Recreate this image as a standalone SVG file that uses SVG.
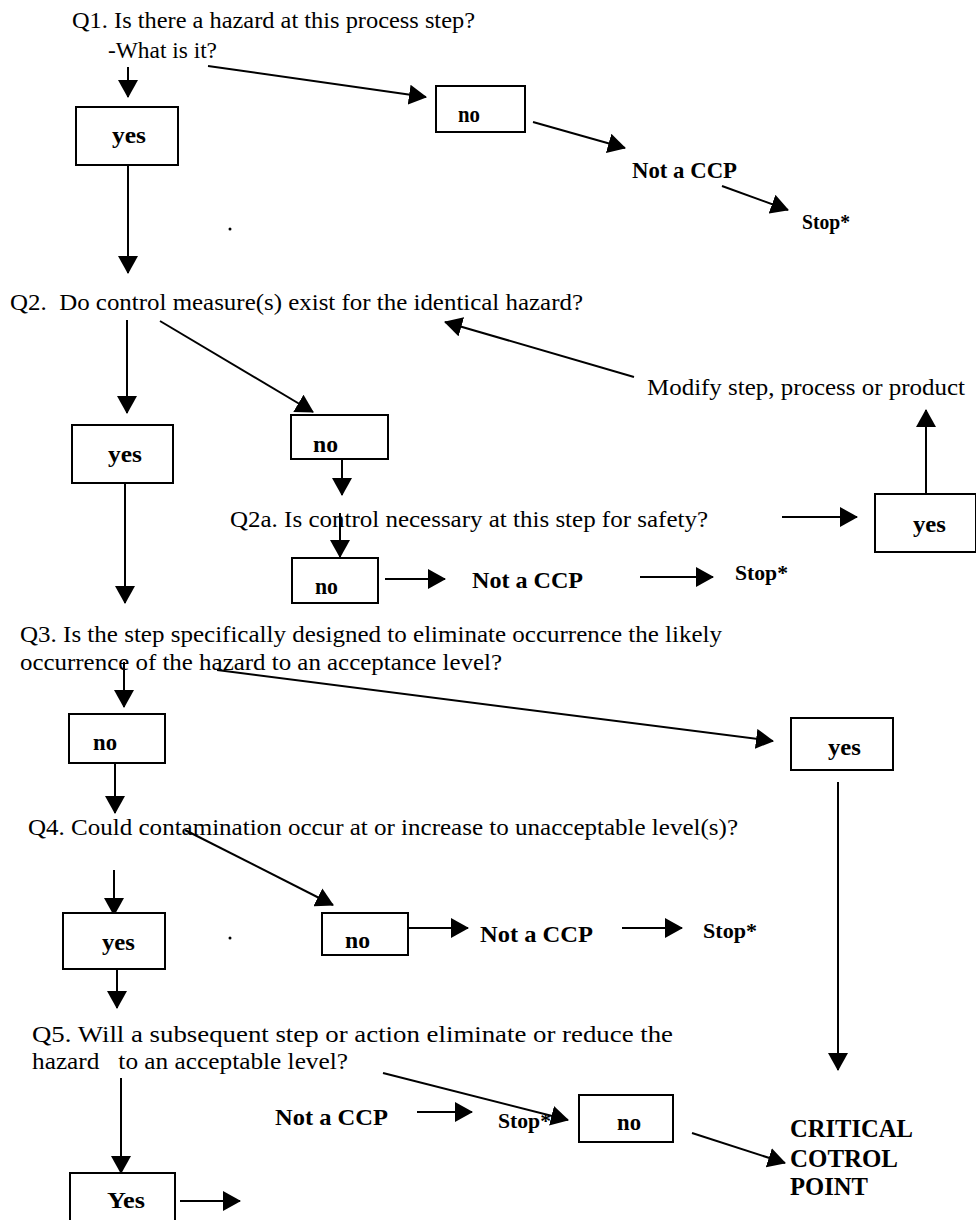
<svg xmlns="http://www.w3.org/2000/svg" width="976" height="1220" viewBox="0 0 976 1220">
<style>
.q{font-family:"Liberation Serif","Times New Roman",serif;font-size:24px;fill:#000;white-space:pre}
.b{font-family:"Liberation Serif","Times New Roman",serif;font-size:23px;font-weight:bold;fill:#000}
.s{font-family:"Liberation Serif","Times New Roman",serif;font-size:20px;font-weight:bold;fill:#000}
.c{font-family:"Liberation Serif","Times New Roman",serif;font-size:25px;font-weight:bold;fill:#000}
.box{fill:#fff;stroke:#000;stroke-width:2}
.ln{stroke:#000;stroke-width:2;fill:none;marker-end:url(#ah)}
</style>
<defs>
<marker id="ah" viewBox="0 0 18 20" refX="17" refY="10" markerWidth="18" markerHeight="20" markerUnits="userSpaceOnUse" orient="auto">
<path d="M0,0 L18,10 L0,20 z" fill="#000"/>
</marker>
</defs>
<rect width="976" height="1220" fill="#fff"/>

<g id="connectors">
<line class="ln" x1="128" y1="67" x2="128" y2="97"/>
<line class="ln" x1="208" y1="66" x2="426" y2="97"/>
<line class="ln" x1="128" y1="165" x2="128" y2="273"/>
<line class="ln" x1="533" y1="122" x2="625" y2="148"/>
<line class="ln" x1="722" y1="186" x2="788" y2="210"/>
<line class="ln" x1="127" y1="320" x2="127" y2="413"/>
<line class="ln" x1="160" y1="321" x2="313" y2="412"/>
<line class="ln" x1="125" y1="483" x2="125" y2="603"/>
<line class="ln" x1="342" y1="459" x2="342" y2="495"/>
<line class="ln" x1="340" y1="513" x2="340" y2="557"/>
<line class="ln" x1="385" y1="579" x2="445" y2="579"/>
<line class="ln" x1="640" y1="577" x2="713" y2="577"/>
<line class="ln" x1="782" y1="517" x2="857" y2="517"/>
<line class="ln" x1="926" y1="494" x2="926" y2="410"/>
<line class="ln" x1="634" y1="377" x2="445" y2="322"/>
<line class="ln" x1="124" y1="662" x2="124" y2="707"/>
<line class="ln" x1="217" y1="670" x2="773" y2="741"/>
<line class="ln" x1="115" y1="763" x2="115" y2="813"/>
<line class="ln" x1="838" y1="782" x2="838" y2="1070"/>
<line class="ln" x1="114" y1="870" x2="114" y2="915"/>
<line class="ln" x1="185" y1="830" x2="333" y2="905"/>
<line class="ln" x1="409" y1="928" x2="468" y2="928"/>
<line class="ln" x1="622" y1="928" x2="682" y2="928"/>
<line class="ln" x1="117" y1="969" x2="117" y2="1008"/>
<line class="ln" x1="121" y1="1078" x2="121" y2="1173"/>
<line class="ln" x1="180" y1="1201" x2="240" y2="1201"/>
<line class="ln" x1="417" y1="1112" x2="472" y2="1112"/>
<line class="ln" x1="383" y1="1073" x2="568" y2="1120"/>
<line class="ln" x1="692" y1="1133" x2="785" y2="1163"/>
</g>

<g id="q1">
<text class="q" x="72" y="28" textLength="403" lengthAdjust="spacingAndGlyphs">Q1. Is there a hazard at this process step?</text>
<text class="q" x="108" y="58" textLength="109" lengthAdjust="spacingAndGlyphs">-What is it?</text>
</g>
<g id="q1-yes">
<rect class="box" x="76" y="107" width="102" height="58"/>
<text class="b" x="112" y="143" textLength="34" lengthAdjust="spacingAndGlyphs">yes</text>
</g>
<g id="q1-no">
<rect class="box" x="436" y="86" width="89" height="46"/>
<text class="b" x="458" y="122" textLength="22" lengthAdjust="spacingAndGlyphs">no</text>
</g>
<g id="q1-notccp">
<text class="b" x="632" y="178" textLength="105" lengthAdjust="spacingAndGlyphs">Not a CCP</text>
</g>
<g id="q1-stop">
<text class="s" x="802" y="229" textLength="48" lengthAdjust="spacingAndGlyphs">Stop*</text>
</g>
<g id="speck1"><circle cx="230" cy="229" r="1.5" fill="#000"/></g>

<g id="q2">
<text class="q" x="10" y="310" textLength="573" lengthAdjust="spacingAndGlyphs">Q2.  Do control measure(s) exist for the identical hazard?</text>
</g>
<g id="modify">
<text class="q" x="647" y="395" textLength="318" lengthAdjust="spacingAndGlyphs">Modify step, process or product</text>
</g>
<g id="q2-yes">
<rect class="box" x="72" y="425" width="101" height="58"/>
<text class="b" x="108" y="462" textLength="34" lengthAdjust="spacingAndGlyphs">yes</text>
</g>
<g id="q2-no">
<rect class="box" x="291" y="415" width="97" height="44"/>
<text class="b" x="313" y="452" textLength="25" lengthAdjust="spacingAndGlyphs">no</text>
</g>
<g id="q2a">
<text class="q" x="230" y="527" textLength="478" lengthAdjust="spacingAndGlyphs">Q2a. Is control necessary at this step for safety?</text>
</g>
<g id="q2a-no">
<rect class="box" x="292" y="558" width="86" height="45"/>
<text class="b" x="315" y="594" textLength="23" lengthAdjust="spacingAndGlyphs">no</text>
</g>
<g id="q2a-notccp">
<text class="b" x="472" y="588" textLength="111" lengthAdjust="spacingAndGlyphs">Not a CCP</text>
</g>
<g id="q2a-stop">
<text class="s" x="735" y="580" textLength="53" lengthAdjust="spacingAndGlyphs">Stop*</text>
</g>
<g id="q2a-yes">
<rect class="box" x="875" y="494" width="101" height="58"/>
<text class="b" x="913" y="532" textLength="33" lengthAdjust="spacingAndGlyphs">yes</text>
</g>

<g id="q3">
<text class="q" x="20" y="642" textLength="702" lengthAdjust="spacingAndGlyphs">Q3. Is the step specifically designed to eliminate occurrence the likely</text>
<text class="q" x="20" y="670" textLength="482" lengthAdjust="spacingAndGlyphs">occurrence of the hazard to an acceptance level?</text>
</g>
<g id="q3-no">
<rect class="box" x="69" y="714" width="96" height="49"/>
<text class="b" x="93" y="750" textLength="24" lengthAdjust="spacingAndGlyphs">no</text>
</g>
<g id="q3-yes">
<rect class="box" x="791" y="718" width="102" height="52"/>
<text class="b" x="828" y="755" textLength="33" lengthAdjust="spacingAndGlyphs">yes</text>
</g>

<g id="q4">
<text class="q" x="28" y="835" textLength="710" lengthAdjust="spacingAndGlyphs">Q4. Could contamination occur at or increase to unacceptable level(s)?</text>
</g>
<g id="q4-yes">
<rect class="box" x="63" y="913" width="102" height="56"/>
<text class="b" x="102" y="950" textLength="33" lengthAdjust="spacingAndGlyphs">yes</text>
</g>
<g id="speck2"><circle cx="230" cy="938" r="1.5" fill="#000"/></g>
<g id="q4-no">
<rect class="box" x="322" y="913" width="86" height="42"/>
<text class="b" x="345" y="948" textLength="25" lengthAdjust="spacingAndGlyphs">no</text>
</g>
<g id="q4-notccp">
<text class="b" x="480" y="942" textLength="113" lengthAdjust="spacingAndGlyphs">Not a CCP</text>
</g>
<g id="q4-stop">
<text class="s" x="703" y="938" textLength="54" lengthAdjust="spacingAndGlyphs">Stop*</text>
</g>

<g id="q5">
<text class="q" x="32" y="1042" textLength="641" lengthAdjust="spacingAndGlyphs">Q5. Will a subsequent step or action eliminate or reduce the</text>
<text class="q" x="32" y="1069" textLength="316" lengthAdjust="spacingAndGlyphs">hazard   to an acceptable level?</text>
</g>
<g id="q5-yes">
<rect class="box" x="70" y="1173" width="105" height="60"/>
<text class="b" x="107" y="1208" textLength="38" lengthAdjust="spacingAndGlyphs">Yes</text>
</g>
<g id="q5-notccp">
<text class="b" x="275" y="1125" textLength="113" lengthAdjust="spacingAndGlyphs">Not a CCP</text>
</g>
<g id="q5-stop">
<text class="s" x="498" y="1128" textLength="53" lengthAdjust="spacingAndGlyphs">Stop*</text>
</g>
<g id="q5-no">
<rect class="box" x="579" y="1095" width="94" height="47"/>
<text class="b" x="617" y="1130" textLength="24" lengthAdjust="spacingAndGlyphs">no</text>
</g>
<g id="ccp">
<text class="c" x="790" y="1137" textLength="123" lengthAdjust="spacingAndGlyphs">CRITICAL</text>
<text class="c" x="790" y="1167" textLength="108" lengthAdjust="spacingAndGlyphs">COTROL</text>
<text class="c" x="790" y="1195" textLength="78" lengthAdjust="spacingAndGlyphs">POINT</text>
</g>
</svg>
